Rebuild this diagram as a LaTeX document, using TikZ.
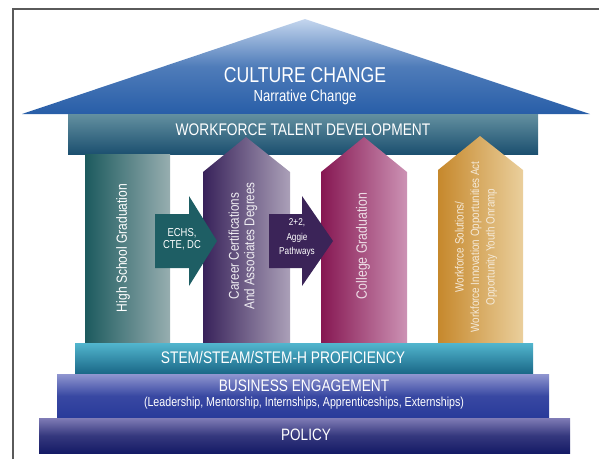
\documentclass[tikz,border=0pt]{standalone}
\usepackage{fontspec}
\setmainfont{Liberation Sans}[FakeStretch=0.82]
\usepackage{tikz}
\usetikzlibrary{shapes,arrows}
\usetikzlibrary{arrows,calc,positioning}
\definecolor{rooftop}{HTML}{C4D6EE}
\definecolor{roofbase}{HTML}{285EA8}
\definecolor{bandtop}{HTML}{6390A0}
\definecolor{bandbase}{HTML}{1C5070}
\definecolor{hsdark}{HTML}{1C5A5E}
\definecolor{hslight}{HTML}{97AEB0}
\definecolor{ccdark}{HTML}{38225A}
\definecolor{cclight}{HTML}{ABA0B8}
\definecolor{cgdark}{HTML}{861752}
\definecolor{cglight}{HTML}{CC92B4}
\definecolor{wsdark}{HTML}{C6882C}
\definecolor{wslight}{HTML}{EACF9C}
\definecolor{echsfill}{HTML}{1E5E64}
\definecolor{aggiefill}{HTML}{3B2458}
\definecolor{stemtop}{HTML}{52B6CE}
\definecolor{stembase}{HTML}{196686}
\definecolor{busitop}{HTML}{9096D0}
\definecolor{busibase}{HTML}{293A9A}
\definecolor{polytop}{HTML}{807CB6}
\definecolor{polybase}{HTML}{151B66}
\definecolor{framegray}{HTML}{5A5A5A}
\tikzset{
        wtext/.style = {text=white, inner sep=0pt, align=center},
        ptext/.style = {wtext, rotate=90},
        vshade/.style n args = {2}{top color=#1, bottom color=#2},
        hshade/.style n args = {2}{left color=#1, right color=#2},
    }

\begin{document}
\begin{tikzpicture}[x=1pt,y=-1pt]
    \useasboundingbox (0,0) rectangle (599,459);
    % frame
    \draw[framegray, line width=1.3pt] (13,459) -- (13,9) -- (599,9);

    % roof and top band
    \shade[vshade={rooftop}{roofbase}, middle color=roofbase!75!rooftop]
          (22,114) -- (305,19) -- (590,114) -- cycle;
    \shade[vshade={bandtop}{bandbase}] (68,114) rectangle (538,154);
    \node[wtext, font=\fontsize{21.5}{24}\selectfont] (culture) at (305,75) {CULTURE CHANGE};
    \node[wtext, font=\fontsize{16}{18}\selectfont, below=7pt of culture] (narrative) {Narrative Change};
    \node[wtext, font=\fontsize{16.8}{19}\selectfont] (talent) at (303,130) {WORKFORCE TALENT DEVELOPMENT};

    % pillars
    \shade[hshade={hsdark}{hslight}] (85,154) rectangle (170,343);
    \shade[hshade={ccdark}{cclight}]
          (203,343) -- (203,172) -- (246,137) -- (290,172) -- (290,343) -- cycle;
    \shade[hshade={cgdark}{cglight}]
          (321,343) -- (321,172) -- (364,137) -- (407,172) -- (407,343) -- cycle;
    \shade[hshade={wsdark}{wslight}]
          (438,343) -- (438,170) -- (480,136) -- (523,170) -- (523,343) -- cycle;

    \node[ptext, font=\fontsize{14.7}{17}\selectfont] (highschool) at (123,248) {High School Graduation};
    \node[ptext, font=\fontsize{14.2}{15.5}\selectfont, text=white!92!ccdark] (career) at (243,246)
          {Career Certifications\\And Associates Degrees};
    \node[ptext, font=\fontsize{15}{17}\selectfont, text=white!85!cgdark] (college) at (363,246) {College Graduation};
    \node[ptext, font=\fontsize{12}{15.5}\selectfont, text=white!82!wsdark] (workforce) at (476,247)
          {Workforce Solutions/\\Workforce Innovation Opportunities Act\\Opportunity Youth Onramp};

    % pathway arrows
    \fill[echsfill] (155,214) -- (189,214) -- (189,196) -- (217,241)
          -- (189,286) -- (189,268) -- (155,268) -- cycle;
    \fill[aggiefill] (269,214) -- (302,214) -- (302,196) -- (333,241)
          -- (302,286) -- (302,268) -- (269,268) -- cycle;
    \node[wtext, font=\fontsize{11.5}{11.5}\selectfont] (echs) at (182,239) {ECHS,\\CTE, DC};
    \node[wtext, font=\fontsize{10}{14.5}\selectfont] (aggie) at (297,238) {2+2,\\Aggie\\Pathways};

    % foundation
    \shade[vshade={stemtop}{stembase}] (75,343) rectangle (533,374);
    \shade[vshade={busitop}{busibase}, middle color=busibase!85!busitop] (57,374) rectangle (549,418);
    \shade[vshade={polytop}{polybase}, middle color=polybase!70!polytop] (39,418) rectangle (570,453);
    \node[wtext, font=\fontsize{16.8}{19}\selectfont] (stem) at (283,357) {STEM/STEAM/STEM-H PROFICIENCY};
    \node[wtext, font=\fontsize{16.7}{19}\selectfont] (business) at (304,386) {BUSINESS ENGAGEMENT};
    \node[wtext, font=\fontsize{13}{15}\selectfont, below=5pt of business] (roles)
          {(Leadership, Mentorship, Internships, Apprenticeships, Externships)};
    \node[wtext, font=\fontsize{16.5}{19}\selectfont] (policy) at (306,435) {POLICY};
\end{tikzpicture}
\end{document}
